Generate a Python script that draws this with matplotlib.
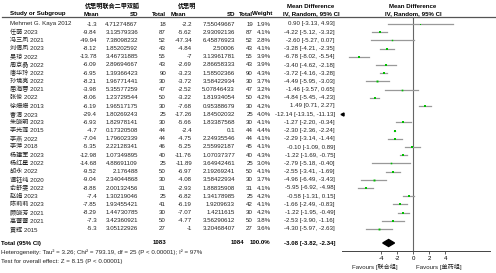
import matplotlib.pyplot as plt
from matplotlib.patches import Polygon

plt.rcParams['font.family'] = ['Liberation Sans', 'Noto Sans CJK SC', 'DejaVu Sans']

# ========= data =========
studies = ["Mehmet G. Kaya 2012", "任萌 2023", "冯三凤 2021", "刘倩凤 2023", "吴琼 2022",
           "周京晶 2022", "唐华玲 2022", "孙境亮 2022", "屈海蓉 2021", "张俊 2022",
           "徐姗姗 2013", "曹清 2023", "朱晓明 2023", "李光莲 2015", "李燕 2022",
           "李萍 2018", "杨建军 2023", "杨红星 2022", "胡永 2022", "谭钰纯 2020",
           "俞舒雯 2022", "赵娟 2023", "陈莉莉 2023", "顾晓芳 2021", "高蕾蕾 2021",
           "黄辉 2015"]
mean1 = [-1.3, -9.84, -49.94, -8.12, -13.78, -6.09, -6.95, -8.21, -3.98, -8.06,
         -6.19, -29.4, -6.93, -4.7, -7.04, -5.35, -12.98, -14.68, -9.52, -9.04,
         -8.88, -7.4, -7.85, -8.29, -7.3, -5.3]
sd1 = ["4.71274867", "3.13579336", "7.38098232", "1.85202592", "3.46731885",
       "2.89694667", "1.39366423", "1.96771441", "5.35577259", "1.23729544",
       "1.96517175", "1.80269243", "1.82978141", "0.17320508", "1.79602339",
       "2.22128341", "1.07349895", "4.88691109", "2.176488", "2.34044868",
       "2.00132456", "1.30219046", "1.93455421", "1.44730785", "3.42360921",
       "3.05122926"]
n1 = [18, 87, 52, 43, 55, 43, 90, 30, 47, 50, 30, 25, 30, 44, 44, 46, 40, 25,
      50, 30, 31, 25, 41, 30, 50, 27]
mean2 = [-2.2, -5.62, -47.34, -4.84, -7, -2.69, -3.23, -3.72, -2.52, -3.22,
         -7.68, -17.26, -5.66, -2.4, -4.75, -5.25, -11.76, -11.89, -6.97, -4.08,
         -2.93, -6.82, -6.19, -7.07, -4.77, -1]
sd2 = ["7.55049667", "2.93092136", "6.45876923", "2.50006", "3.13961781",
       "2.86658333", "1.58502366", "3.58422934", "5.07846433", "1.81934054",
       "0.95388679", "1.84502032", "1.83387568", "0.1", "2.24935546",
       "2.55992187", "1.07037377", "3.64942461", "2.19269241", "3.58422934",
       "1.88835908", "1.34178985", "1.9209633", "1.4211615", "3.56290612",
       "3.20468407"]
n2 = [19, 87, 52, 43, 55, 43, 90, 30, 47, 50, 30, 25, 30, 44, 44, 45, 40, 25,
      50, 30, 31, 25, 42, 30, 50, 27]
weight = [1.9, 4.1, 2.8, 4.1, 3.9, 3.9, 4.3, 3.7, 3.2, 4.2, 4.2, 4.0, 4.1, 4.4,
          4.1, 4.1, 4.3, 3.0, 4.1, 3.7, 4.1, 4.2, 4.1, 4.2, 3.8, 3.6]
md = [0.90, -4.22, -2.60, -3.28, -6.78, -3.40, -3.72, -4.49, -1.46, -4.84, 1.49,
      -12.14, -1.27, -2.30, -2.29, -0.10, -1.22, -2.79, -2.55, -4.96, -5.95,
      -0.58, -1.66, -1.22, -2.53, -4.30]
lo = [-3.13, -5.12, -5.27, -4.21, -8.02, -4.62, -4.16, -5.95, -3.57, -5.45, 0.71,
      -13.15, -2.20, -2.36, -3.14, -1.09, -1.69, -5.18, -3.41, -6.49, -6.92,
      -1.31, -2.49, -1.95, -3.90, -5.97]
hi = [4.93, -3.32, 0.07, -2.35, -5.54, -2.18, -3.28, -3.03, 0.65, -4.23, 2.27,
      -11.13, -0.34, -2.24, -1.44, 0.89, -0.75, -0.40, -1.69, -3.43, -4.98,
      0.15, -0.83, -0.49, -1.16, -2.63]
total_n1, total_n2 = 1083, 1084
total_md, total_lo, total_hi = -3.08, -3.82, -2.34
ticks = [-4, -2, 0, 2, 4]

# ========= layout (pixels) =========
W, H = 496, 273
fs = 4.4
txt = '#222222'
row_y = [24 + 8.2 * i for i in range(len(studies))]
y_total, y_het, y_test = 243, 252, 261
x_lim = (-8.95, 9.6)

fig = plt.figure(figsize=(W / 100, H / 100), dpi=100)
bg = fig.add_axes([0, 0, 1, 1])
bg.set_xlim(0, W)
bg.set_ylim(H, 0)
bg.axis('off')

# headers
bg.text(112, 6, "优思明联合二甲双胍", fontsize=fs, ha='center', va='center', fontweight='bold')
bg.text(187, 6, "优思明", fontsize=fs, ha='center', va='center', fontweight='bold')
bg.text(311, 7, "Mean Difference", fontsize=fs, ha='center', va='center', fontweight='bold')
bg.text(413, 6, "Mean Difference", fontsize=fs, ha='center', va='center', fontweight='bold')
hdr_y = 14
bg.text(10, hdr_y, "Study or Subgroup", fontsize=fs, ha='left', va='center', fontweight='bold')
for x, s in [(99, "Mean"), (138, "SD"), (166, "Total"), (186, "Mean"),
             (235, "SD"), (253, "Total"), (272, "Weight")]:
    bg.text(x, hdr_y, s, fontsize=fs, ha='right', va='center', fontweight='bold')
bg.text(311, hdr_y, "IV, Random, 95% CI", fontsize=fs, ha='center', va='center', fontweight='bold')
bg.text(413, hdr_y, "IV, Random, 95% CI", fontsize=fs, ha='center', va='center', fontweight='bold')
bg.plot([2, W], [17, 17], color='#555555', lw=0.9)

# study rows
for i, y in enumerate(row_y):
    bg.text(10, y, studies[i], fontsize=fs, ha='left', va='center', color=txt)
    bg.text(97, y, f"{mean1[i]:g}", fontsize=fs, ha='right', va='center', color=txt)
    bg.text(138, y, sd1[i], fontsize=fs, ha='right', va='center', color=txt)
    bg.text(166, y, str(n1[i]), fontsize=fs, ha='right', va='center', color=txt)
    bg.text(192, y, f"{mean2[i]:g}", fontsize=fs, ha='right', va='center', color=txt)
    bg.text(235, y, sd2[i], fontsize=fs, ha='right', va='center', color=txt)
    bg.text(253, y, str(n2[i]), fontsize=fs, ha='right', va='center', color=txt)
    bg.text(271, y, f"{weight[i]:.1f}%", fontsize=fs, ha='right', va='center', color=txt)
    bg.text(335, y, f"{md[i]:.2f} [{lo[i]:.2f}, {hi[i]:.2f}]", fontsize=fs,
            ha='right', va='center', color=txt)

# total row
bg.text(1, y_total, "Total (95% CI)", fontsize=fs, ha='left', va='center', fontweight='bold')
bg.text(166, y_total, str(total_n1), fontsize=fs, ha='right', va='center', fontweight='bold')
bg.text(244, y_total, str(total_n2), fontsize=fs, ha='right', va='center', fontweight='bold')
bg.text(270, y_total, "100.0%", fontsize=fs, ha='right', va='center', fontweight='bold')
bg.text(335, y_total, f"{total_md:.2f} [{total_lo:.2f}, {total_hi:.2f}]", fontsize=fs,
        ha='right', va='center', fontweight='bold')
bg.text(1, y_het, "Heterogeneity: Tau² = 3.26; Chi² = 793.19, df = 25 (P < 0.00001); I² = 97%",
        fontsize=fs, ha='left', va='center', color=txt)
bg.text(1, y_test, "Test for overall effect: Z = 8.15 (P < 0.00001)",
        fontsize=fs, ha='left', va='center', color=txt)

# ========= forest panel =========
ax_l, ax_r, ax_t, ax_b = 341.7, 490, 17, 251
ax = fig.add_axes([ax_l / W, (H - ax_b) / H, (ax_r - ax_l) / W, (ax_b - ax_t) / H])
ax.set_xlim(*x_lim)
ax.set_ylim(ax_b, ax_t)
ax.patch.set_alpha(0)
for s in ['top', 'left', 'right']:
    ax.spines[s].set_visible(False)
ax.spines['bottom'].set_color('#444444')
ax.spines['bottom'].set_linewidth(0.7)
ax.set_yticks([])
ax.set_xticks(ticks)
ax.set_xticklabels([str(t) for t in ticks])
ax.tick_params(axis='x', labelsize=fs, length=2, width=0.6, pad=1.5, color='#444444')
ax.axvline(0, color='#666666', lw=0.8)

for i, y in enumerate(row_y):
    if hi[i] < x_lim[0]:
        ax.plot(x_lim[0] + 0.1, y, marker='<', color='black', ms=2.2, clip_on=False)
        continue
    ax.plot([max(lo[i], x_lim[0]), min(hi[i], x_lim[1])], [y, y], color='#999999', lw=0.9)
    ax.plot(md[i], y, marker='s', color='#00c000', ms=0.38 * weight[i], mew=0)

dh = 3.5
ax.add_patch(Polygon([(total_lo, y_total), (total_md, y_total - dh),
                      (total_hi, y_total), (total_md, y_total + dh)],
                     closed=True, color='black'))

ax.text(-1.9, 266.5, "Favours [联合组]", fontsize=fs, ha='right', va='center', color=txt)
ax.text(0.4, 266.5, "Favours [单药组]", fontsize=fs, ha='left', va='center', color=txt)

fig.savefig('out.png', dpi=100)
